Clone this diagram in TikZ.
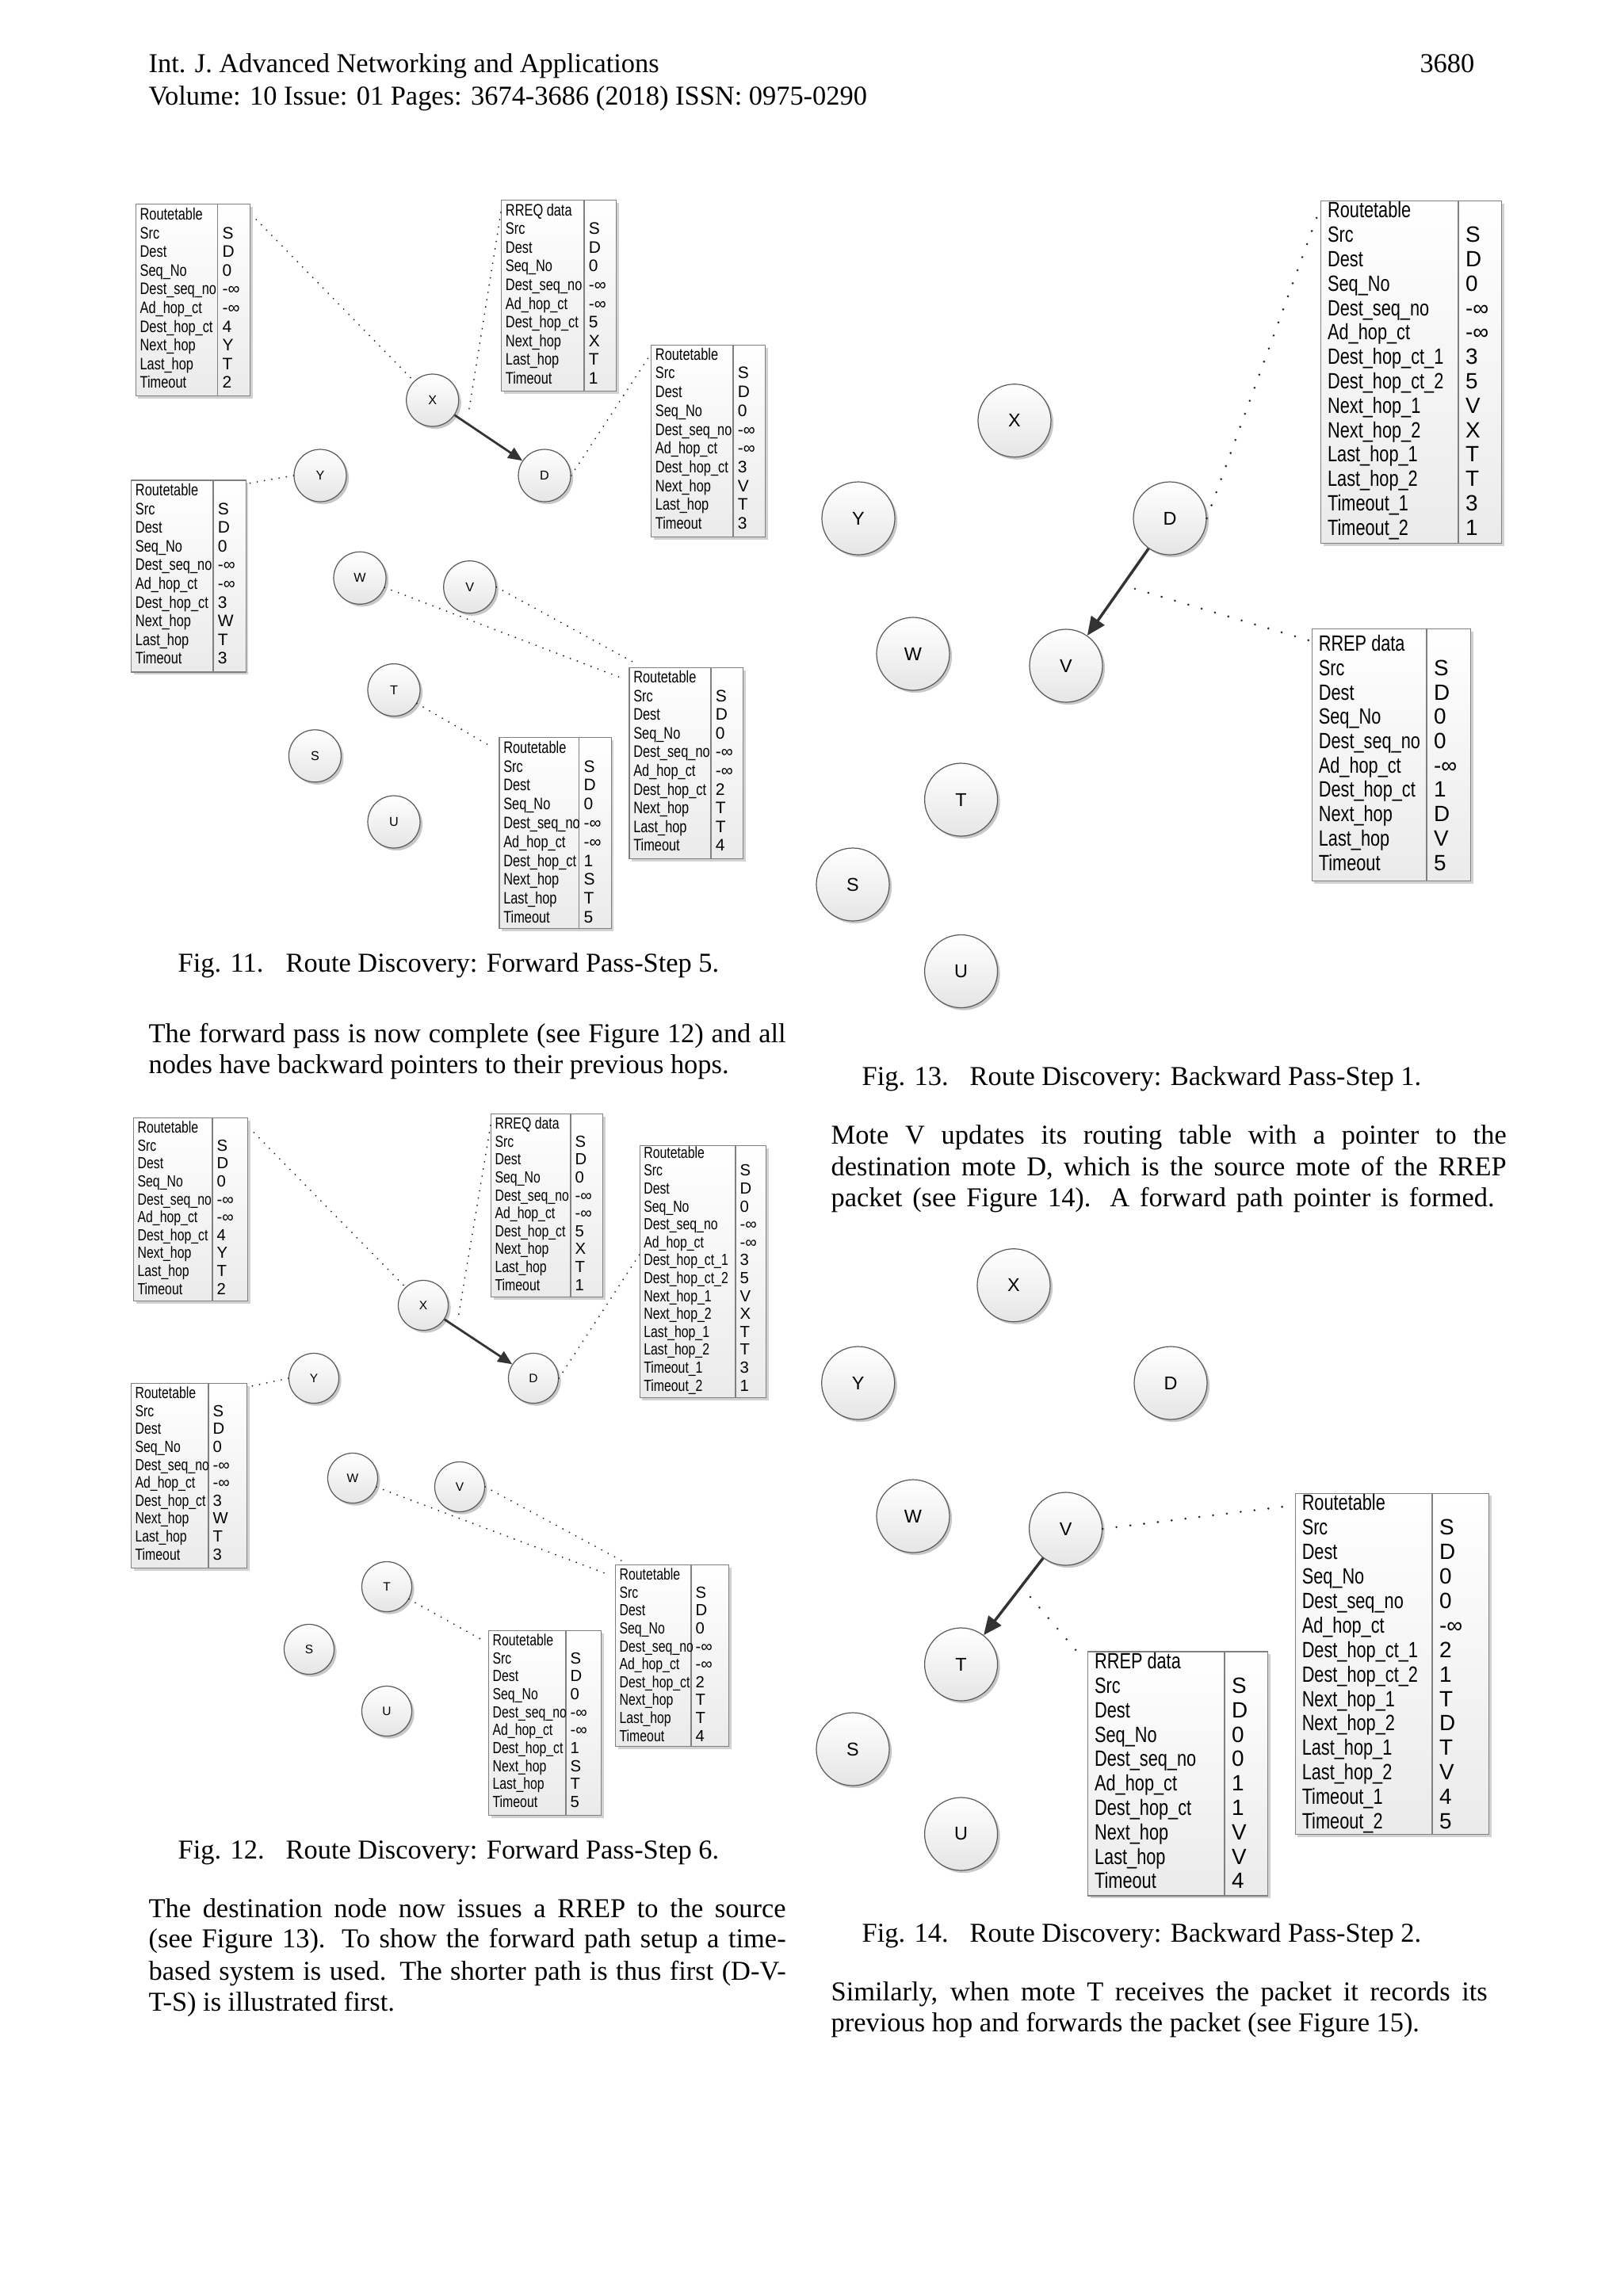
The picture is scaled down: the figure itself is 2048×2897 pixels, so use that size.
\documentclass[tikz,border=0pt]{standalone}
\usepackage{fontspec}
\setmainfont{Liberation Serif}
\newfontfamily\tabfont[FakeStretch=0.78]{Liberation Sans}
\newfontfamily\valfont{Liberation Sans}
\usetikzlibrary{arrows.meta,calc,shadows}
\newdimen\pxu \pxu=0.29065pt

\tikzset{
  mote/.style={circle, draw=black!65, line width=0.35pt, top color=white, bottom color=black!10,
    drop shadow={shadow xshift=0.9pt, shadow yshift=-0.9pt, opacity=0.22, fill=black}, inner sep=0pt},
  mA/.style={mote, minimum size={66*0.29065pt}, font=\valfont\fontsize{4.7}{5}\selectfont},
  mB/.style={mote, minimum size={63*0.29065pt}, font=\valfont\fontsize{4.5}{5}\selectfont},
  mC/.style={mote, minimum size={92*0.29065pt}, font=\valfont\fontsize{6.8}{7}\selectfont},
  tbox/.style={draw=black!50, line width=0.4pt, top color=white, bottom color=black!8, inner sep=0pt,
    drop shadow={shadow xshift=0.9pt, shadow yshift=-0.9pt, opacity=0.18, fill=black}},
  tline/.style={draw=black!50, line width=0.4pt},
  tlab/.style={anchor=base west, inner sep=0pt, text=black},
  dotsA/.style={draw=black!85, line width=0.6pt, line cap=round, dash pattern=on 0pt off 2.7pt},
  dotsC/.style={draw=black!85, line width=0.85pt, line cap=round, dash pattern=on 0pt off 5.1pt},
  arrA/.style={draw=black!80, line width=0.8pt, -{Triangle[length=5.2pt,width=4.4pt]}},
  arrC/.style={draw=black!80, line width=1pt, -{Triangle[length=6.8pt,width=5.8pt]}},
  txt/.style={anchor=base west, inner sep=0pt, font=\fontsize{10}{12}\selectfont},
}

% name, left, top, right, bottom, divider, first row centre, row step, font size ; then rows
\newcommand\rtab[9]{%
  \def\tN{#1}\def\tL{#2}\def\tT{#3}\def\tR{#4}\def\tB{#5}\def\tD{#6}\def\tY{#7}\def\tdy{#8}\def\tS{#9}%
  \rtabrows}
\newcommand\rtabrows[1]{%
  \node[tbox, anchor=north west, minimum width={(\tR-\tL)*0.29065pt}, minimum height={(\tB-\tT)*0.29065pt}] (\tN) at (\tL,\tT) {};
  \draw[tline] (\tD,\tT) -- (\tD,\tB);
  \pgfmathsetmacro\toff{1.6*\tS-4.5}%
  \pgfmathsetmacro\tbs{\tS*1.232}%
  \foreach \lab/\val [count=\i from 0] in {#1} {
    \node[tlab, font=\tabfont\fontsize{\tS}{\tS}\selectfont] (\tN-l\i) at ({\tL+\toff},{\tY+\i*\tdy+\tbs}) {\lab};
    \node[tlab, font=\valfont\fontsize{\tS}{\tS}\selectfont] (\tN-v\i) at ({\tD+\toff},{\tY+\i*\tdy+\tbs}) {\val};
  }}

\begin{document}
\begin{tikzpicture}[x=0.29065pt, y=-0.29065pt]
\useasboundingbox (0,0) rectangle (2048,2897);
\fill[white] (0,0) rectangle (2048,2897);

% ---------- header ----------
\node[txt] (h1) at (187,91) {Int. J. Advanced Networking and Applications};
\node[txt] (h2) at (187,132) {Volume: 10 Issue: 01 Pages: 3674-3686 (2018) ISSN: 0975-0290};
\node[txt, anchor=base east] (h3) at (1861,91) {3680};

% ================= Fig 11 =================
\node[mA] (X1) at (545.7,505) {X};
\node[mA] (Y1) at (404,600) {Y};
\node[mA] (D1) at (687,600) {D};
\node[mA] (W1) at (454,729.3) {W};
\node[mA] (V1) at (592.7,740.7) {V};
\node[mA] (T1) at (497,870.6) {T};
\node[mA] (S1) at (397.4,953.8) {S};
\node[mA] (U1) at (497,1037) {U};

\rtab{A1}{170.7}{257}{315}{499}{274.7}{270}{23.6}{6.1}{Routetable/{},Src/S,Dest/D,Seq\_No/0,Dest\_seq\_no/-∞,Ad\_hop\_ct/-∞,Dest\_hop\_ct/4,Next\_hop/Y,Last\_hop/T,Timeout/2}
\rtab{R1}{632}{252}{777}{493}{737}{264.6}{23.6}{6.1}{RREQ data/{},Src/S,Dest/D,Seq\_No/0,Dest\_seq\_no/-∞,Ad\_hop\_ct/-∞,Dest\_hop\_ct/5,Next\_hop/X,Last\_hop/T,Timeout/1}
\rtab{Dt1}{821}{434.7}{965}{676.7}{925}{446.7}{23.7}{6.1}{Routetable/{},Src/S,Dest/D,Seq\_No/0,Dest\_seq\_no/-∞,Ad\_hop\_ct/-∞,Dest\_hop\_ct/3,Next\_hop/V,Last\_hop/T,Timeout/3}
\rtab{B1}{165}{605.3}{309.7}{847.3}{269}{618}{23.6}{6.1}{Routetable/{},Src/S,Dest/D,Seq\_No/0,Dest\_seq\_no/-∞,Ad\_hop\_ct/-∞,Dest\_hop\_ct/3,Next\_hop/W,Last\_hop/T,Timeout/3}
\rtab{E1}{793.3}{841.7}{937}{1083}{897}{854}{23.6}{6.1}{Routetable/{},Src/S,Dest/D,Seq\_No/0,Dest\_seq\_no/-∞,Ad\_hop\_ct/-∞,Dest\_hop\_ct/2,Next\_hop/T,Last\_hop/T,Timeout/4}
\rtab{F1}{629.3}{930}{770.7}{1170.7}{730.7}{942.7}{23.8}{6.1}{Routetable/{},Src/S,Dest/D,Seq\_No/0,Dest\_seq\_no/-∞,Ad\_hop\_ct/-∞,Dest\_hop\_ct/1,Next\_hop/S,Last\_hop/T,Timeout/5}

\coordinate (c11) at (591,522);
\draw[dotsA] ($(A1.north east)+(7,20)$) -- (X1);
\draw[dotsA] ($(R1.north west)+(0,16)$) -- (c11);
\draw[arrA] (X1) -- (D1);
\draw[dotsA] (D1.east) -- ($(Dt1.north west)+(0,12)$);
\draw[dotsA] (Y1.west) -- ($(B1.north east)+(0,5)$);
\draw[dotsA] (W1) -- ($(E1.north west)+(-11,13)$);
\draw[dotsA] (V1.east) -- ($(E1.north west)+(8,-5)$);
\draw[dotsA] (T1) -- ($(F1.north west)+(-8,13)$);

\node[txt] (cap11a) at (224,1226) {Fig. 11.};
\node[txt] (cap11b) at (360,1226) {Route Discovery: Forward Pass-Step 5.};
\node[txt] (p1a) at (187,1315) {\makebox[804\pxu][s]{The forward pass is now complete (see Figure 12) and all}};
\node[txt] (p1b) at (187,1354) {nodes have backward pointers to their previous hops.};

% ================= Fig 12 =================
\node[mB] (X2) at (534,1647) {X};
\node[mB] (Y2) at (396,1739) {Y};
\node[mB] (D2) at (673,1739) {D};
\node[mB] (W2) at (445,1865) {W};
\node[mB] (V2) at (580,1876) {V};
\node[mB] (T2) at (488,2002) {T};
\node[mB] (S2) at (390,2081) {S};
\node[mB] (U2) at (488,2159) {U};

\rtab{A2}{168}{1410}{312}{1641}{268}{1422.5}{22.6}{5.9}{Routetable/{},Src/S,Dest/D,Seq\_No/0,Dest\_seq\_no/-∞,Ad\_hop\_ct/-∞,Dest\_hop\_ct/4,Next\_hop/Y,Last\_hop/T,Timeout/2}
\rtab{R2}{619}{1405}{760}{1636}{720}{1417.5}{22.6}{5.9}{RREQ data/{},Src/S,Dest/D,Seq\_No/0,Dest\_seq\_no/-∞,Ad\_hop\_ct/-∞,Dest\_hop\_ct/5,Next\_hop/X,Last\_hop/T,Timeout/1}
\rtab{Dt2}{806.7}{1445}{966}{1763}{928}{1454}{22.6}{5.9}{Routetable/{},Src/S,Dest/D,Seq\_No/0,Dest\_seq\_no/-∞,Ad\_hop\_ct/-∞,Dest\_hop\_ct\_1/3,Dest\_hop\_ct\_2/5,Next\_hop\_1/V,Next\_hop\_2/X,Last\_hop\_1/T,Last\_hop\_2/T,Timeout\_1/3,Timeout\_2/1}
\rtab{B2}{165}{1745}{311}{1978}{263}{1757.5}{22.6}{5.9}{Routetable/{},Src/S,Dest/D,Seq\_No/0,Dest\_seq\_no/-∞,Ad\_hop\_ct/-∞,Dest\_hop\_ct/3,Next\_hop/W,Last\_hop/T,Timeout/3}
\rtab{E2}{776}{1974}{919}{2203}{872}{1986.5}{22.6}{5.9}{Routetable/{},Src/S,Dest/D,Seq\_No/0,Dest\_seq\_no/-∞,Ad\_hop\_ct/-∞,Dest\_hop\_ct/2,Next\_hop/T,Last\_hop/T,Timeout/4}
\rtab{F2}{616}{2057}{758}{2290}{714}{2069.5}{22.6}{5.9}{Routetable/{},Src/S,Dest/D,Seq\_No/0,Dest\_seq\_no/-∞,Ad\_hop\_ct/-∞,Dest\_hop\_ct/1,Next\_hop/S,Last\_hop/T,Timeout/5}

\coordinate (c12) at (578,1663);
\draw[dotsA] ($(A2.north east)+(7,19)$) -- (X2);
\draw[dotsA] ($(R2.north west)+(0,15)$) -- (c12);
\draw[arrA] (X2) -- (D2);
\draw[dotsA] (D2.east) -- ($(Dt2.north west)+(0,138)$);
\draw[dotsA] (Y2.west) -- ($(B2.north east)+(0,5)$);
\draw[dotsA] (W2) -- ($(E2.north west)+(-10,12)$);
\draw[dotsA] (V2.east) -- ($(E2.north west)+(8,-5)$);
\draw[dotsA] (T2) -- ($(F2.north west)+(-8,12)$);

\node[txt] (cap12a) at (224,2345) {Fig. 12.};
\node[txt] (cap12b) at (360,2345) {Route Discovery: Forward Pass-Step 6.};
\node[txt] (p2a) at (187,2419) {\makebox[804\pxu][s]{The destination node now issues a RREP to the source}};
\node[txt] (p2b) at (187,2457) {\makebox[804\pxu][s]{(see Figure 13). To show the forward path setup a time-}};
\node[txt] (p2c) at (187,2498) {\makebox[804\pxu][s]{based system is used. The shorter path is thus first (D-V-}};
\node[txt] (p2d) at (187,2537) {T-S) is illustrated first.};

% ================= Fig 13 =================
\node[mC] (X3) at (1280,530.7) {X};
\node[mC] (Y3) at (1083,654) {Y};
\node[mC] (D3) at (1476,654) {D};
\node[mC] (W3) at (1152,825) {W};
\node[mC] (V3) at (1345,840) {V};
\node[mC] (T3) at (1212.6,1009) {T};
\node[mC] (S3) at (1076,1116) {S};
\node[mC] (U3) at (1212.6,1225.5) {U};

\rtab{G3}{1666}{252.7}{1894}{685}{1840}{265}{30.8}{8.1}{Routetable/{},Src/S,Dest/D,Seq\_No/0,Dest\_seq\_no/-∞,Ad\_hop\_ct/-∞,Dest\_hop\_ct\_1/3,Dest\_hop\_ct\_2/5,Next\_hop\_1/V,Next\_hop\_2/X,Last\_hop\_1/T,Last\_hop\_2/T,Timeout\_1/3,Timeout\_2/1}
\rtab{H3}{1654.7}{793}{1855}{1110.7}{1800}{811.7}{30.7}{8.1}{RREP data/{},Src/S,Dest/D,Seq\_No/0,Dest\_seq\_no/0,Ad\_hop\_ct/-∞,Dest\_hop\_ct/1,Next\_hop/D,Last\_hop/V,Timeout/5}

\coordinate (c13) at (1432,743);
\draw[arrC] (D3) -- (V3);
\draw[dotsC] (D3.east) -- ($(G3.north west)+(-4,20)$);
\draw[dotsC] (c13) -- ($(H3.north west)+(0,16)$);

\node[txt] (cap13a) at (1087,1369) {Fig. 13.};
\node[txt] (cap13b) at (1223,1369) {Route Discovery: Backward Pass-Step 1.};
\node[txt] (p3a) at (1048,1443) {\makebox[852\pxu][s]{Mote V updates its routing table with a pointer to the}};
\node[txt] (p3b) at (1048,1483) {\makebox[852\pxu][s]{destination mote D, which is the source mote of the RREP}};
\node[txt] (p3c) at (1048,1522) {\makebox[837\pxu][s]{packet (see Figure 14). A forward path pointer is formed.}};

% ================= Fig 14 =================
\node[mC] (X4) at (1279,1621.7) {X};
\node[mC] (Y4) at (1082.7,1745) {Y};
\node[mC] (D4) at (1477,1745) {D};
\node[mC] (W4) at (1152,1913) {W};
\node[mC] (V4) at (1344.6,1929) {V};
\node[mC] (T4) at (1212.6,2100) {T};
\node[mC] (S4) at (1076,2207) {S};
\node[mC] (U4) at (1212.6,2314) {U};

\rtab{I4}{1633.6}{1883.5}{1878}{2314}{1807}{1895.8}{30.9}{8.1}{Routetable/{},Src/S,Dest/D,Seq\_No/0,Dest\_seq\_no/0,Ad\_hop\_ct/-∞,Dest\_hop\_ct\_1/2,Dest\_hop\_ct\_2/1,Next\_hop\_1/T,Next\_hop\_2/D,Last\_hop\_1/T,Last\_hop\_2/V,Timeout\_1/4,Timeout\_2/5}
\rtab{J4}{1372}{2083.4}{1599}{2391.4}{1545}{2095.7}{30.8}{8.1}{RREP data/{},Src/S,Dest/D,Seq\_No/0,Dest\_seq\_no/0,Ad\_hop\_ct/1,Dest\_hop\_ct/1,Next\_hop/V,Last\_hop/V,Timeout/4}

\coordinate (c14) at (1300,2015);
\draw[arrC] (V4) -- (T4);
\draw[dotsC] (V4.east) -- ($(I4.north west)+(-2,16)$);
\draw[dotsC] (c14) -- ($(J4.north west)+(-4,11)$);

\node[txt] (cap14a) at (1087,2450) {Fig. 14.};
\node[txt] (cap14b) at (1223,2450) {Route Discovery: Backward Pass-Step 2.};
\node[txt] (p4a) at (1048,2524) {\makebox[828\pxu][s]{Similarly, when mote T receives the packet it records its}};
\node[txt] (p4b) at (1048,2563) {previous hop and forwards the packet (see Figure 15).};
\end{tikzpicture}
\end{document}
